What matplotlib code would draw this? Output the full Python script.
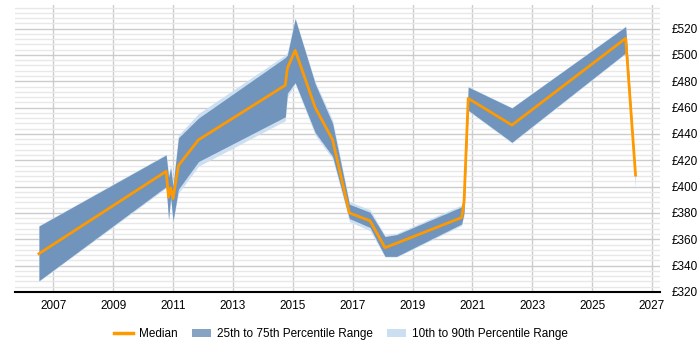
import matplotlib
matplotlib.use("Agg")
import matplotlib.pyplot as plt
from matplotlib.ticker import MultipleLocator, FuncFormatter
from matplotlib.patches import Patch
from matplotlib.lines import Line2D

plt.rcParams['font.family'] = ['Liberation Sans', 'DejaVu Sans']

# Data
years = [2006.52, 2010.77, 2010.85, 2010.92, 2011.0, 2011.18, 2011.85, 2014.75, 2014.82,
         2015.08, 2015.75, 2016.33, 2016.89, 2017.58, 2018.08, 2018.47, 2020.64, 2020.72,
         2020.86, 2022.32, 2026.12, 2026.45]
median = [349, 411.6, 392, 399, 391, 416, 435.5, 477, 490, 503.5, 460, 435.5, 380, 374,
          353.6, 357, 376.5, 388, 467, 446.7, 512.6, 408.7]
p75 = [370, 424, 407, 414, 400, 437, 452, 498, 500, 527.5, 478, 448, 386.6, 380.5, 362,
       363.5, 384.6, 395, 475.6, 459.7, 521.5, 410]
p25 = [328.5, 400, 375, 392, 374, 398, 419, 453, 471, 479, 441, 423, 375.7, 369, 347, 347,
       371.6, 380, 458, 433.7, 501.6, 407]
p90 = [370.5, 424.5, 410, 416, 404, 439, 455.5, 500, 502, 528, 479.5, 450.5, 388.5, 382.5,
       363, 364.5, 386, 397, 476, 460, 522, 411]
p10 = [328, 399, 374, 390, 373, 395, 415.5, 450, 468, 478, 439, 421, 373.5, 366.5, 346.5,
       346.5, 370.5, 378, 457.5, 433, 501, 397]

xticks = list(range(2007, 2028, 2))

fig = plt.figure(figsize=(7, 3.5), dpi=100)
ax = fig.add_axes([0.0214, 0.166, 0.9216, 0.82])

ax.fill_between(years, p10, p90, color='#ccdff0', linewidth=0, zorder=2)
ax.fill_between(years, p25, p75, color='#7094bc', linewidth=0, zorder=3)
ax.plot(years, median, color='#ff9900', linewidth=2, zorder=4)

ax.set_xlim(2005.72, 2027.27)
ax.set_ylim(320, 538)
ax.set_xticks(xticks)
ax.set_xticklabels([str(y) for y in xticks])
ax.yaxis.set_major_locator(MultipleLocator(20))
ax.yaxis.set_minor_locator(MultipleLocator(4))
ax.yaxis.set_major_formatter(FuncFormatter(lambda v, p: f'£{v:.0f}'))
ax.yaxis.tick_right()

ax.grid(axis='x', color='#cccccc', linewidth=1, zorder=0)
ax.grid(axis='y', which='major', color='#cccccc', linewidth=1, zorder=0)
ax.grid(axis='y', which='minor', color='#e8e8e8', linewidth=1, zorder=0)
ax.set_axisbelow(True)

for s in ['top', 'left', 'right']:
    ax.spines[s].set_visible(False)
ax.spines['bottom'].set_color('black')
ax.spines['bottom'].set_linewidth(1.5)
ax.tick_params(axis='both', which='both', length=0, labelsize=8.5, colors='black')
ax.tick_params(axis='x', pad=6)
ax.tick_params(axis='y', pad=8)

handles = [Line2D([], [], color='#ff9900', linewidth=2.5),
           Patch(facecolor='#86a3c4', edgecolor='none'),
           Patch(facecolor='#ccdff0', edgecolor='none')]
labels = ['Median', '25th to 75th Percentile Range', '10th to 90th Percentile Range']
fig.legend(handles, labels, loc='center', bbox_to_anchor=(0.487, 0.045), ncol=3,
           frameon=False, fontsize=8.5, handlelength=1.6, columnspacing=1.2,
           handletextpad=0.5)

fig.savefig('out.png', dpi=100)
